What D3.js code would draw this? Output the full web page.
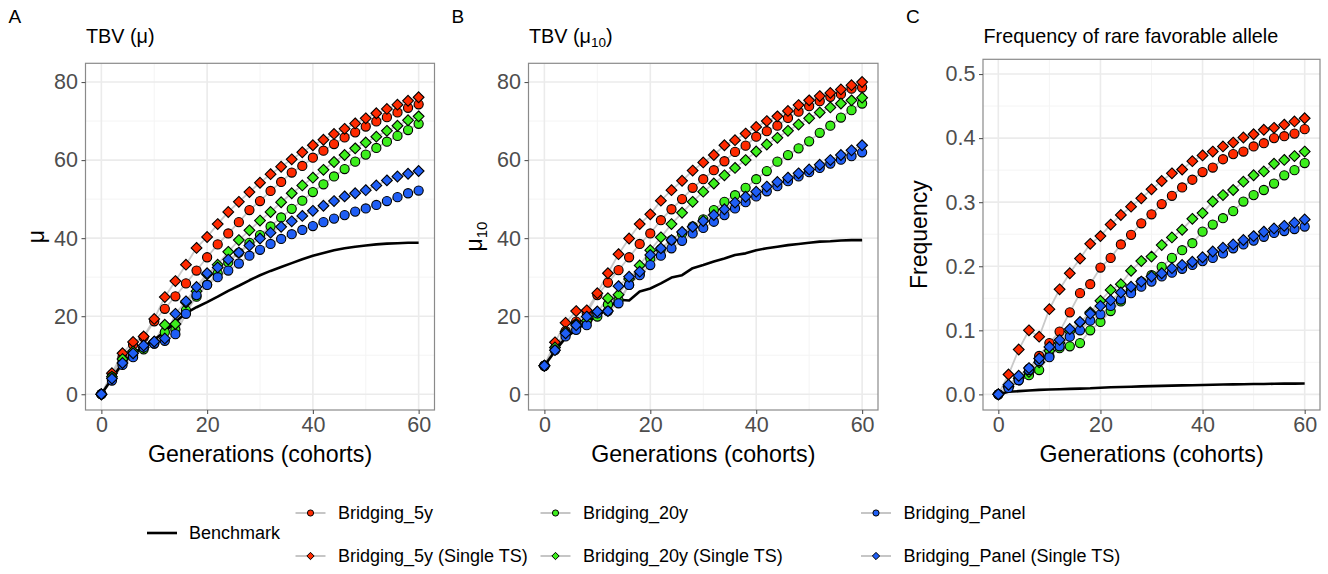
<!DOCTYPE html>
<html>
<head>
<meta charset="utf-8">
<script src="https://cdn.jsdelivr.net/npm/d3@7"></script>
<style>
  body { margin: 0; background: #fff; }
  svg { display: block; }
  text { font-family: "Liberation Sans", Arial, Helvetica, sans-serif; }
</style>
</head>
<body>
<div id="chart"></div>
<script>
// generations (cohorts) on the x axis
const generations = [0,2,4,6,8,10,12,14,16,18,20,22,24,26,28,30,32,34,36,38,40,42,44,46,48,50,52,54,56,58,60];

// panel A - TBV (mu)
const muBench       = [0,4,8,10.3,12.3,14,16,18.5,20.8,22.3,23.6,25,26.5,27.8,29.2,30.5,31.6,32.6,33.6,34.6,35.5,36.2,36.9,37.4,37.8,38.1,38.4,38.6,38.7,38.8,38.8];
const mu5y          = [0,5,9.5,12.7,14.6,18.7,21.9,25.1,28.4,31.7,35.1,38.4,41.2,44.1,47.2,49.5,52.1,54.4,56.8,58.5,60.6,62.4,64.1,65.8,67.1,68.6,69.9,71,72.2,73.4,74.3];
const mu5ySingle    = [0,5.4,10.5,13.4,14.8,19.3,24.9,29,33.2,37.5,40.3,43.6,46.7,49.3,51.8,54.2,56.4,58.3,60.2,62,63.8,65.2,66.7,68,69.4,70.7,72,73.1,74.2,75.2,76.1];
const mu20y         = [0,4.5,8.5,10,11.5,13,15.9,16.6,21.5,25,28.1,31,33.8,36.3,38.8,40.8,43,45.3,47.5,49.6,51.8,53.8,55.8,57.7,59.6,61.4,63.1,64.7,66.2,67.7,69.3];
const mu20ySingle   = [0,4.5,9,11,12,13.5,17.8,18,23.5,26.4,30.7,33.2,36.5,39.5,42,44.5,46.7,49.2,51.5,53.5,55.5,57.5,59.5,61.3,63,64.5,66,67.5,68.8,70.2,71.2];
const muPanel       = [0,3.5,7.5,9.5,12,13,13.7,15.4,20.6,25.4,28,30,31.7,33.5,35.5,37,38.5,39.8,41,42.1,43.1,44.1,45,45.9,46.8,47.6,48.5,49.5,50.5,51.5,52.2];
const muPanelSingle = [0,4,8,10.5,12.5,13.5,14.3,20.6,23.8,27.5,31,32.5,34.5,36.3,38.1,39.9,41.4,42.9,44.3,45.7,47,48.3,49.5,50.7,51.5,52.3,53.5,54.8,55.8,56.5,57.2];

// panel B - TBV (mu10)
const mu10Bench       = [7.3,11,14.5,16.5,18.5,20,22,24.2,24,26.3,27.1,28.4,29.9,30.5,32.3,33.1,34,34.8,35.7,36.1,36.9,37.4,37.8,38.2,38.5,38.8,39.1,39.2,39.4,39.5,39.5];
const mu10_5y         = [7.3,11.8,16.2,18.6,20.8,25.4,28.6,31.8,35.1,38.5,41.2,44.6,47.4,50,52.9,55.1,57.4,59.7,62.1,63.7,66,67.4,68.8,70.8,72.4,73.8,75.1,76.2,76.9,78.3,78.6];
const mu10_5ySingle   = [7.3,13.3,18.3,21.3,21.5,25.9,31,35.9,39.9,43.6,46.1,49.6,52.3,54.7,57.3,59.4,61.3,63.8,65.1,66.8,68.5,70,71.2,72.6,74.1,75.3,76.4,77.2,78.1,79.2,80];
const mu10_20y        = [7.3,11.5,15.5,17.9,18.6,19.9,23,24.1,28,30.8,34.8,37.2,39.5,41.2,43,44.8,47.2,49.3,51,52.9,55.1,57.2,59.6,61.3,63,64.8,67,68.8,70.9,72.8,74.5];
const mu10_20ySingle  = [7.3,12,16,18,18.8,21,24.6,25.5,29.5,33,36.9,40.2,43.6,46.5,49.3,51.9,54,56.1,58,60,62.2,64,65.7,67.5,69.1,70.7,72.2,73.5,74.5,75.3,76];
const mu10Panel       = [7.3,11.3,14.8,16.5,17.7,20.7,21.3,23.3,28,30.5,33.1,35.5,37.4,39.3,41.2,42.6,44.2,45.9,47.6,49.2,50.7,52,53.3,54.6,55.8,56.9,58,59.1,60.1,61,62];
const mu10PanelSingle = [7.3,11.3,15.6,17.7,19.9,21.2,21.3,27.7,30.1,31.4,35.7,37.4,39.5,41.6,42.9,44.4,45.9,47.4,49.1,50.6,51.9,53.2,54.4,55.5,56.6,57.6,58.8,60,61.3,62.5,63.8];

// panel C - frequency of rare favorable allele
const freqBench       = [0,0.004,0.005,0.006,0.007,0.0075,0.008,0.0085,0.009,0.0095,0.0104,0.011,0.0115,0.012,0.0124,0.0128,0.0132,0.0136,0.014,0.0143,0.0146,0.015,0.0153,0.0156,0.0159,0.0161,0.0163,0.0165,0.0167,0.0168,0.017];
const freq5y          = [0,0.012,0.025,0.04,0.06,0.08,0.098,0.128,0.158,0.172,0.198,0.213,0.234,0.249,0.267,0.281,0.297,0.31,0.323,0.335,0.347,0.354,0.367,0.375,0.379,0.387,0.392,0.4,0.403,0.407,0.414];
const freq5ySingle    = [0,0.031,0.07,0.1,0.09,0.133,0.164,0.189,0.212,0.235,0.247,0.265,0.28,0.293,0.306,0.32,0.333,0.345,0.351,0.364,0.373,0.379,0.387,0.393,0.401,0.406,0.413,0.416,0.421,0.426,0.431];
const freq20y         = [0,0.012,0.022,0.03,0.038,0.06,0.072,0.075,0.08,0.1,0.113,0.13,0.145,0.163,0.176,0.186,0.199,0.213,0.225,0.236,0.254,0.265,0.275,0.286,0.301,0.311,0.319,0.329,0.342,0.35,0.361];
const freq20ySingle   = [0,0.012,0.025,0.035,0.05,0.068,0.08,0.098,0.112,0.128,0.146,0.163,0.172,0.193,0.208,0.215,0.233,0.245,0.257,0.274,0.283,0.301,0.311,0.319,0.332,0.342,0.348,0.36,0.366,0.372,0.379];
const freqPanel       = [0,0.01,0.022,0.038,0.052,0.058,0.075,0.09,0.1,0.115,0.125,0.138,0.148,0.158,0.168,0.176,0.184,0.19,0.196,0.202,0.208,0.213,0.22,0.228,0.234,0.24,0.246,0.252,0.255,0.258,0.262];
const freqPanelSingle = [0,0.015,0.029,0.041,0.056,0.074,0.085,0.102,0.113,0.126,0.138,0.147,0.159,0.168,0.176,0.184,0.189,0.197,0.202,0.207,0.214,0.223,0.229,0.234,0.241,0.247,0.254,0.259,0.263,0.268,0.273];

const seriesNames  = ["Bridging_5y", "Bridging_5y (Single TS)", "Bridging_20y", "Bridging_20y (Single TS)", "Bridging_Panel", "Bridging_Panel (Single TS)"];
const seriesColors = ["#ff2a00", "#ff2a00", "#3cee1c", "#3cee1c", "#1f5ef5", "#1f5ef5"];
const seriesShapes = ["circle", "diamond", "circle", "diamond", "circle", "diamond"];
const benchName = "Benchmark";

const xTicks = [0, 20, 40, 60];
const xMinor = [10, 30, 50];
const muTicks = [0, 20, 40, 60, 80];
const muMinor = [10, 30, 50, 70];
const freqTicks = [0, 0.1, 0.2, 0.3, 0.4, 0.5];
const freqMinor = [0.05, 0.15, 0.25, 0.35, 0.45];

let panels = [
    {tag: "A", title: "TBV (μ)", ytitle: "μ", sub: "", yTitleX: 36,
     left: 85.5, right: 434.5, top: 63.3, bottom: 410, yDomain: [-4.04, 84.8],
     yTicks: muTicks, yMinor: muMinor, fmt: d3.format("d"),
     bench: muBench, series: [mu5y, mu5ySingle, mu20y, mu20ySingle, muPanel, muPanelSingle]},
    {tag: "B", title: "TBV (μ", titleSub: "10", ytitle: "μ", sub: "10", yTitleX: 474,
     left: 528.5, right: 878, top: 63.3, bottom: 410, yDomain: [-4.04, 84.8],
     yTicks: muTicks, yMinor: muMinor, fmt: d3.format("d"),
     bench: mu10Bench, series: [mu10_5y, mu10_5ySingle, mu10_20y, mu10_20ySingle, mu10Panel, mu10PanelSingle]},
    {tag: "C", title: "Frequency of rare favorable allele", ytitle: "Frequency", sub: "", yTitleX: 919,
     left: 983, right: 1320, top: 59.3, bottom: 410, yDomain: [-0.0244, 0.523],
     yTicks: freqTicks, yMinor: freqMinor, fmt: d3.format(".1f"),
     bench: freqBench, series: [freq5y, freq5ySingle, freq20y, freq20ySingle, freqPanel, freqPanelSingle]}
];

const svg = d3.select("#chart").append("svg")
    .attr("width", 1328)
    .attr("height", 574);

function shapePath(shape, size){
    let type = shape == "circle" ? d3.symbolCircle : d3.symbolDiamond2;
    return d3.symbol().type(type).size(size)();
}

panels.forEach(function(p){
    let x = d3.scaleLinear().domain([-3, 63]).range([p.left, p.right]);
    let y = d3.scaleLinear().domain(p.yDomain).range([p.bottom, p.top]);
    let g = svg.append("g");

    g.append("rect")
        .attr("x", p.left).attr("y", p.top)
        .attr("width", p.right - p.left).attr("height", p.bottom - p.top)
        .attr("fill", "#fff");

    //minor grid
    g.selectAll(".xminor").data(xMinor).enter().append("line")
        .attr("x1", d => x(d)).attr("x2", d => x(d))
        .attr("y1", p.top).attr("y2", p.bottom)
        .attr("stroke", "#f4f4f4").attr("stroke-width", 1);
    g.selectAll(".yminor").data(p.yMinor).enter().append("line")
        .attr("x1", p.left).attr("x2", p.right)
        .attr("y1", d => y(d)).attr("y2", d => y(d))
        .attr("stroke", "#f4f4f4").attr("stroke-width", 1);
    //major grid
    g.selectAll(".xmajor").data(xTicks).enter().append("line")
        .attr("x1", d => x(d)).attr("x2", d => x(d))
        .attr("y1", p.top).attr("y2", p.bottom)
        .attr("stroke", "#ebebeb").attr("stroke-width", 1.6);
    g.selectAll(".ymajor").data(p.yTicks).enter().append("line")
        .attr("x1", p.left).attr("x2", p.right)
        .attr("y1", d => y(d)).attr("y2", d => y(d))
        .attr("stroke", "#ebebeb").attr("stroke-width", 1.6);

    let line = d3.line()
        .x((d, i) => x(generations[i]))
        .y(d => y(d));

    //grey connecting lines under the points
    p.series.forEach(function(s){
        g.append("path")
            .attr("d", line(s))
            .attr("fill", "none")
            .attr("stroke", "#c0c0c0")
            .attr("stroke-width", 1.8)
            .attr("stroke-opacity", 0.85);
    });

    //benchmark
    g.append("path")
        .attr("d", line(p.bench))
        .attr("fill", "none")
        .attr("stroke", "#000")
        .attr("stroke-width", 2.6)
        .attr("stroke-linejoin", "round");

    p.series.forEach(function(s, k){
        g.selectAll(null).data(s).enter().append("path")
            .attr("d", shapePath(seriesShapes[k], seriesShapes[k] == "circle" ? 66 : 74))
            .attr("transform", (d, i) => "translate(" + x(generations[i]) + "," + y(d) + ")")
            .attr("fill", seriesColors[k])
            .attr("stroke", "#000")
            .attr("stroke-width", 1.1);
    });

    g.append("rect")
        .attr("x", p.left).attr("y", p.top)
        .attr("width", p.right - p.left).attr("height", p.bottom - p.top)
        .attr("fill", "none").attr("stroke", "#8a8a8a").attr("stroke-width", 1.2);

    let yAxis = g.append("g")
        .attr("transform", "translate(" + p.left + ",0)")
        .call(d3.axisLeft(y).tickValues(p.yTicks).tickFormat(p.fmt).tickSize(4).tickPadding(3.5));
    let xAxis = g.append("g")
        .attr("transform", "translate(0," + p.bottom + ")")
        .call(d3.axisBottom(x).tickValues(xTicks).tickFormat(d3.format("d")).tickSize(4).tickPadding(3));
    [yAxis, xAxis].forEach(function(a){
        a.select(".domain").remove();
        a.selectAll("line").attr("stroke", "#555").attr("stroke-width", 1.1);
        a.selectAll("text").attr("fill", "#4d4d4d")
            .style("font-size", "21.5px")
            .style("font-family", '"Liberation Sans", Arial, sans-serif');
    });

    //tag letter and title
    g.append("text")
        .attr("x", p.left - 77).attr("y", 23)
        .style("font-size", "19px")
        .text(p.tag);
    let title = g.append("text")
        .attr("x", p.left + 0.5).attr("y", 43)
        .style("font-size", "19.8px")
        .text(p.title);
    if(p.titleSub){
        title.append("tspan").attr("dy", 4).style("font-size", "13.5px").text(p.titleSub);
        title.append("tspan").attr("dy", -4).text(")");
    }

    //axis titles
    g.append("text")
        .attr("x", (p.left + p.right) / 2).attr("y", 462)
        .attr("text-anchor", "middle")
        .style("font-size", "23.2px")
        .text("Generations (cohorts)");
    let cy = (p.top + p.bottom) / 2;
    let yt = g.append("text")
        .attr("transform", "translate(" + p.yTitleX + "," + cy + ") rotate(-90)")
        .attr("text-anchor", "middle")
        .attr("dy", "0.35em")
        .style("font-size", "23px")
        .text(p.ytitle);
    if(p.sub){
        yt.append("tspan").attr("dy", 5).style("font-size", "15px").text(p.sub);
    }
});

//legend
let legend = svg.append("g");
legend.append("line")
    .attr("x1", 147).attr("x2", 177).attr("y1", 533).attr("y2", 533)
    .attr("stroke", "#000").attr("stroke-width", 2.6);
legend.append("text")
    .attr("x", 189).attr("y", 533).attr("dy", "0.35em")
    .style("font-size", "18px")
    .text(benchName);

let keyCols = [310.5, 555.5, 876];
let keyRows = [513, 556];
seriesNames.forEach(function(name, k){
    let cx = keyCols[Math.floor(k / 2)];
    let cy = keyRows[k % 2];
    let item = legend.append("g");
    item.append("line")
        .attr("x1", cx - 15).attr("x2", cx + 15).attr("y1", cy).attr("y2", cy)
        .attr("stroke", "#c0c0c0").attr("stroke-width", 1.8);
    item.append("path")
        .attr("d", shapePath(seriesShapes[k], seriesShapes[k] == "circle" ? 30 : 34))
        .attr("transform", "translate(" + cx + "," + cy + ")")
        .attr("fill", seriesColors[k]).attr("stroke", "#000").attr("stroke-width", 1);
    item.append("text")
        .attr("x", cx + 27.5).attr("y", cy).attr("dy", "0.35em")
        .style("font-size", "18px")
        .text(name);
});
</script>
</body>
</html>
